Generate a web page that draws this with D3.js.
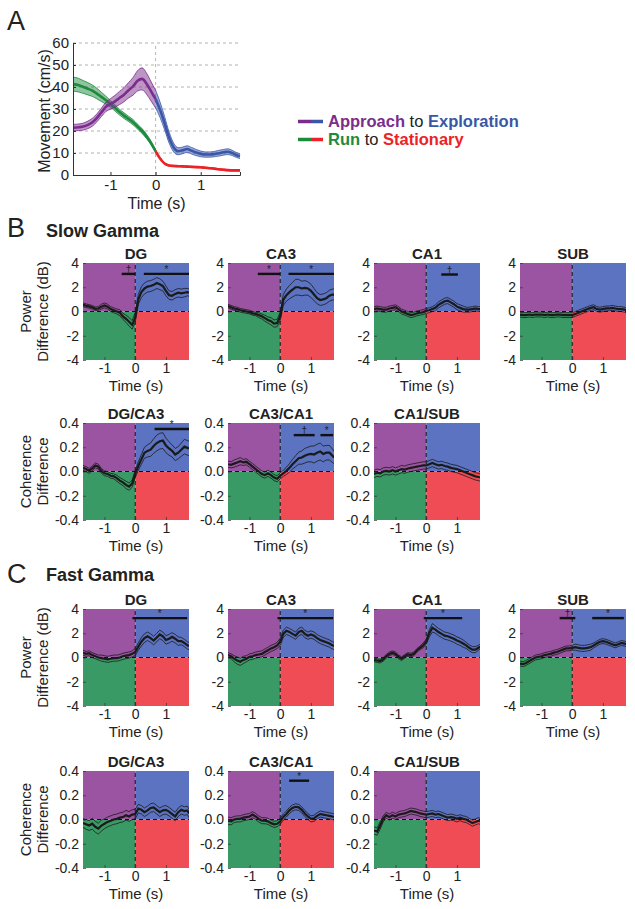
<!DOCTYPE html>
<html>
<head>
<meta charset="utf-8">
<script src="https://cdn.jsdelivr.net/npm/d3@7"></script>
<style>
body { margin: 0; background: #fff; }
svg text { font-family: "Liberation Sans", Arial, sans-serif; fill: #222; }
</style>
</head>
<body>
<svg id="fig" width="635" height="909"></svg>
<script>
// panel A: movement speed around the transition
var timeA = [-1.83,-1.7,-1.6,-1.5,-1.4,-1.3,-1.2,-1.1,-1.0,-0.9,-0.8,-0.7,-0.6,-0.5,-0.4,-0.3,-0.2,-0.1,0,0.1,0.2,0.3,0.4,0.5,0.6,0.7,0.8,0.9,1.0,1.1,1.2,1.3,1.4,1.5,1.6,1.7,1.8,1.87];
var approachMean = [21.5,21.7,22,22.8,24,26,28.5,31,32.3,33.5,35,36.5,38.5,40.3,42.8,43.7,41.5,38,34.5,29.6,23.5,17,12.5,10.8,11.2,11.8,11,10.2,9.6,9.3,9.3,9.5,9.9,10.3,10.6,10,9,8.6];
var approachSem = [1.5,1.5,1.6,1.7,1.8,1.8,1.9,2.1,2.4,2.7,3,3.2,3.5,4,4.6,5,4.8,4.4,4,3.5,3,2.5,2,1.6,1.5,1.5,1.5,1.4,1.3,1.2,1.2,1.2,1.3,1.3,1.3,1.2,1.1,1.1];
var runMean = [41.3,40.8,40,39.2,38.3,37,35.5,34,32.3,30.5,28.6,27,25.5,24,22,20,17.5,14.5,10.8,7.5,5.2,4.3,4.1,4,3.9,3.8,3.7,3.6,3.5,3.3,3.1,2.9,2.6,2.4,2.2,2.1,2.1,2.1];
var runSem = [3.2,3.1,2.9,2.8,2.6,2.4,2.1,1.8,1.5,1.4,1.3,1.3,1.2,1.2,1.1,1.1,1,0.8,0.6,0.4,0.3,0.3,0.3,0.3,0.3,0.3,0.3,0.3,0.3,0.3,0.3,0.3,0.3,0.3,0.3,0.3,0.3,0.3];
var speedTicks = [0,10,20,30,40,50,60];
var timeTicks = [-1,0,1];

// panels B and C: difference curves, 17 points before 0, one at 0, 18 after
var timeBC = [-1.7,-1.6,-1.5,-1.4,-1.3,-1.2,-1.1,-1.0,-0.9,-0.8,-0.7,-0.6,-0.5,-0.4,-0.3,-0.2,-0.1,0,0.1,0.2,0.3,0.4,0.5,0.6,0.7,0.8,0.9,1.0,1.1,1.2,1.3,1.4,1.5,1.6,1.7,1.75];
var powerTicks = [-4,-2,0,2,4];
var cohTicks = [-0.4,-0.2,0,0.2,0.4];

var slowPowDG = [0.55,0.48,0.42,0.35,0.22,0.25,0.4,0.5,0.4,0.2,0.1,0.0,-0.1,-0.4,-0.6,-0.85,-1.1, -0.5, 1.0,1.6,1.9,2.05,2.1,2.2,2.35,2.25,2.1,1.7,1.35,1.3,1.45,1.55,1.5,1.55,1.6,1.55];
var slowPowDGSem = [0.15,0.15,0.15,0.15,0.15,0.15,0.2,0.2,0.2,0.2,0.2,0.2,0.25,0.25,0.3,0.35,0.35, 0.4, 0.4,0.45,0.45,0.45,0.45,0.45,0.45,0.45,0.4,0.4,0.35,0.35,0.35,0.35,0.35,0.35,0.3,0.3];
var slowPowCA3 = [0.45,0.35,0.25,0.2,0.1,0.05,0.0,-0.05,-0.15,-0.2,-0.3,-0.4,-0.55,-0.7,-0.8,-1.0,-0.95, -0.4, 0.95,1.35,1.6,1.8,2.0,2.0,1.9,1.95,1.9,1.7,1.4,1.1,0.95,1.0,1.1,1.3,1.4,1.4];
var slowPowCA3Sem = [0.15,0.15,0.15,0.15,0.15,0.15,0.15,0.15,0.15,0.15,0.2,0.2,0.25,0.25,0.3,0.3,0.3, 0.35, 0.45,0.5,0.55,0.6,0.65,0.65,0.6,0.6,0.55,0.55,0.5,0.45,0.45,0.45,0.45,0.45,0.45,0.45];
var slowPowCA1 = [0.2,0.25,0.2,0.15,0.15,0.25,0.3,0.35,0.2,0.0,-0.1,-0.2,-0.3,-0.25,-0.15,-0.1,-0.05, 0.05, 0.1,0.2,0.3,0.55,0.7,0.85,0.9,0.75,0.6,0.4,0.3,0.2,0.15,0.15,0.2,0.25,0.2,0.2];
var slowPowCA1Sem = [0.2,0.2,0.2,0.2,0.2,0.2,0.2,0.2,0.2,0.2,0.2,0.2,0.2,0.2,0.2,0.2,0.2, 0.2, 0.2,0.2,0.25,0.25,0.25,0.25,0.25,0.25,0.25,0.25,0.25,0.25,0.2,0.2,0.2,0.2,0.2,0.2];
var slowPowSUB = [-0.25,-0.3,-0.3,-0.25,-0.3,-0.25,-0.25,-0.25,-0.3,-0.25,-0.3,-0.3,-0.25,-0.25,-0.3,-0.3,-0.3, -0.3, -0.2,-0.1,0.0,0.1,0.2,0.3,0.35,0.2,0.15,0.2,0.25,0.25,0.3,0.25,0.2,0.2,0.15,0.1];
var slowPowSUBSem = [0.2,0.2,0.2,0.2,0.2,0.2,0.2,0.2,0.2,0.2,0.2,0.2,0.2,0.2,0.2,0.2,0.2, 0.2, 0.2,0.2,0.2,0.2,0.2,0.2,0.2,0.2,0.2,0.2,0.2,0.2,0.2,0.2,0.2,0.2,0.2,0.2];

var slowCohDGCA3 = [0.03,0.02,0.005,0.025,0.05,0.04,0.005,-0.015,-0.02,-0.035,-0.04,-0.055,-0.075,-0.09,-0.11,-0.125,-0.1, -0.02, 0.045,0.1,0.155,0.17,0.18,0.21,0.235,0.25,0.255,0.215,0.19,0.17,0.14,0.155,0.18,0.205,0.195,0.19];
var slowCohDGCA3Sem = [0.02,0.02,0.02,0.02,0.02,0.02,0.02,0.02,0.02,0.02,0.02,0.025,0.025,0.025,0.03,0.03,0.03, 0.03, 0.035,0.04,0.045,0.05,0.055,0.06,0.065,0.065,0.065,0.06,0.055,0.05,0.05,0.05,0.055,0.06,0.06,0.06];
var slowCohCA3CA1 = [0.06,0.055,0.065,0.075,0.085,0.075,0.08,0.06,0.04,0.02,0.0,-0.02,-0.03,-0.015,-0.03,-0.05,-0.06, -0.035, -0.015,0.005,0.03,0.06,0.085,0.11,0.115,0.13,0.14,0.145,0.14,0.155,0.165,0.145,0.155,0.155,0.13,0.115];
var slowCohCA3CA1Sem = [0.025,0.025,0.03,0.03,0.03,0.025,0.025,0.025,0.025,0.025,0.025,0.025,0.025,0.025,0.025,0.025,0.025, 0.025, 0.025,0.03,0.035,0.04,0.045,0.05,0.055,0.06,0.06,0.065,0.07,0.07,0.07,0.065,0.06,0.06,0.055,0.05];
var slowCohCA1SUB = [-0.02,-0.01,-0.015,0.0,0.005,0.0,0.01,0.0,0.01,0.02,0.015,0.025,0.03,0.035,0.04,0.045,0.05, 0.05, 0.06,0.07,0.06,0.05,0.055,0.045,0.04,0.03,0.025,0.02,0.01,0.0,-0.01,-0.02,-0.03,-0.04,-0.045,-0.05];
var slowCohCA1SUBSem = [0.03,0.03,0.03,0.03,0.03,0.03,0.03,0.03,0.03,0.03,0.03,0.03,0.03,0.03,0.03,0.03,0.03, 0.03, 0.03,0.03,0.03,0.03,0.03,0.03,0.03,0.03,0.03,0.03,0.03,0.03,0.03,0.03,0.03,0.03,0.03,0.03];

var fastPowDG = [0.4,0.3,0.35,0.2,0.1,0.0,-0.05,-0.1,-0.15,-0.1,-0.05,-0.05,0.0,0.1,0.15,0.2,0.3, 0.45, 0.9,1.3,1.6,1.75,1.6,1.4,1.65,1.9,1.75,1.45,1.55,1.7,1.55,1.35,1.35,1.2,1.0,0.95];
var fastPowDGSem = [0.2,0.2,0.2,0.2,0.2,0.2,0.25,0.25,0.25,0.25,0.25,0.25,0.25,0.25,0.25,0.25,0.25, 0.3, 0.3,0.35,0.35,0.35,0.35,0.35,0.35,0.35,0.35,0.35,0.35,0.35,0.35,0.35,0.3,0.3,0.3,0.3];
var fastPowCA3 = [0.2,0.1,-0.1,-0.25,-0.35,-0.2,-0.1,0.05,0.1,0.2,0.25,0.3,0.45,0.6,0.75,0.85,1.0, 1.3, 1.95,2.2,2.1,1.95,1.8,2.1,2.2,1.95,1.8,1.9,1.8,1.6,1.45,1.35,1.25,1.15,1.0,0.95];
var fastPowCA3Sem = [0.2,0.2,0.25,0.3,0.3,0.3,0.25,0.25,0.25,0.25,0.25,0.25,0.25,0.25,0.25,0.25,0.25, 0.3, 0.3,0.3,0.3,0.3,0.3,0.3,0.3,0.3,0.3,0.3,0.3,0.3,0.3,0.3,0.3,0.3,0.3,0.3];
var fastPowCA1 = [-0.2,-0.25,-0.3,-0.15,0.1,0.3,0.4,0.3,0.05,-0.1,0.1,0.25,0.2,0.3,0.6,0.8,1.0, 1.3, 2.0,2.45,2.3,2.1,1.95,1.8,1.75,1.65,1.55,1.4,1.3,1.15,1.0,0.8,0.65,0.65,0.8,0.9];
var fastPowCA1Sem = [0.15,0.15,0.15,0.15,0.15,0.15,0.15,0.15,0.15,0.15,0.15,0.15,0.15,0.15,0.15,0.15,0.2, 0.2, 0.3,0.35,0.3,0.3,0.3,0.3,0.3,0.3,0.3,0.3,0.3,0.3,0.25,0.25,0.25,0.25,0.2,0.2];
var fastPowSUB = [-0.5,-0.55,-0.45,-0.3,-0.15,0.0,0.05,0.1,0.2,0.25,0.3,0.4,0.45,0.55,0.65,0.75,0.75, 0.8, 0.85,0.8,0.75,0.75,0.8,0.85,1.0,1.15,1.3,1.35,1.3,1.2,1.1,1.0,1.1,1.2,1.15,1.1];
var fastPowSUBSem = [0.2,0.2,0.2,0.2,0.2,0.2,0.2,0.2,0.2,0.2,0.2,0.2,0.2,0.2,0.2,0.2,0.2, 0.2, 0.25,0.25,0.25,0.25,0.25,0.25,0.2,0.2,0.2,0.2,0.2,0.2,0.2,0.2,0.2,0.2,0.2,0.2];

var fastCohDGCA3 = [-0.03,-0.04,-0.05,-0.035,-0.06,-0.075,-0.05,-0.035,-0.02,-0.01,0.0,0.005,0.015,0.02,0.035,0.025,0.04, 0.045, 0.09,0.08,0.06,0.075,0.095,0.1,0.08,0.06,0.075,0.08,0.065,0.045,0.025,0.06,0.08,0.07,0.075,0.05];
var fastCohDGCA3Sem = [0.035,0.04,0.04,0.045,0.045,0.045,0.045,0.04,0.04,0.04,0.04,0.04,0.04,0.04,0.04,0.04,0.04, 0.04, 0.035,0.035,0.035,0.035,0.035,0.035,0.035,0.035,0.035,0.035,0.035,0.035,0.035,0.035,0.035,0.035,0.035,0.035];
var fastCohCA3CA1 = [-0.01,-0.015,0.0,0.005,0.005,0.015,0.02,0.025,0.04,0.025,0.005,-0.01,-0.01,-0.015,-0.03,-0.04,-0.035, -0.015, 0.02,0.045,0.075,0.095,0.105,0.1,0.08,0.05,0.025,0.005,0.01,0.03,0.045,0.04,0.035,0.03,0.025,0.02];
var fastCohCA3CA1Sem = [0.03,0.03,0.025,0.025,0.025,0.025,0.025,0.025,0.025,0.025,0.025,0.025,0.025,0.025,0.025,0.025,0.025, 0.025, 0.025,0.025,0.025,0.025,0.025,0.025,0.025,0.025,0.025,0.025,0.025,0.025,0.025,0.025,0.025,0.025,0.025,0.025];
var fastCohCA1SUB = [-0.09,-0.1,-0.05,0.005,0.035,0.02,0.035,0.025,0.04,0.045,0.05,0.06,0.07,0.065,0.06,0.05,0.045, 0.04, 0.045,0.05,0.04,0.045,0.035,0.025,0.015,0.02,0.015,0.005,0.015,0.005,0.0,-0.015,-0.03,-0.02,-0.01,-0.015];
var fastCohCA1SUBSem = [0.03,0.03,0.03,0.025,0.025,0.025,0.025,0.025,0.025,0.025,0.025,0.025,0.025,0.025,0.025,0.025,0.025, 0.025, 0.025,0.025,0.025,0.025,0.025,0.025,0.025,0.025,0.025,0.025,0.025,0.025,0.025,0.025,0.025,0.025,0.025,0.025];

// significance bars: time span, height in data units, marker
var slowPowDGSig = [{from: -0.44, to: 0, level: 3.1, mark: '†'}, {from: 0.28, to: 1.75, level: 3.1, mark: '*'}];
var slowPowCA3Sig = [{from: -0.73, to: 0, level: 3.1, mark: '*'}, {from: 0.27, to: 1.75, level: 3.1, mark: '*'}];
var slowPowCA1Sig = [{from: 0.49, to: 1.03, level: 3.05, mark: '†'}];
var slowCohDGCA3Sig = [{from: 0.63, to: 1.75, level: 0.35, mark: '*'}];
var slowCohCA3CA1Sig = [{from: 0.44, to: 1.12, level: 0.3, mark: '†'}, {from: 1.31, to: 1.72, level: 0.3, mark: '*'}];
var fastPowDGSig = [{from: -0.09, to: 1.69, level: 3.25, mark: '*'}];
var fastPowCA3Sig = [{from: -0.09, to: 1.72, level: 3.25, mark: '*'}];
var fastPowCA1Sig = [{from: -0.08, to: 1.17, level: 3.25, mark: '*'}];
var fastPowSUBSig = [{from: -0.41, to: 0.1, level: 3.25, mark: '†'}, {from: 0.65, to: 1.68, level: 3.25, mark: '*'}];
var fastCohCA3CA1Sig = [{from: 0.29, to: 0.94, level: 0.32, mark: '*'}];

var purple = '#9a54a1';
var blue = '#5b73c0';
var green = '#3a9a66';
var red = '#ef4c55';

var svg = d3.select('#fig');
var fontFamily = '"Liberation Sans", Arial, sans-serif';

drawPanelA();
drawSmallPanels();

// panel A
function drawPanelA() {
	var x = d3.scaleLinear().domain([-1.83, 1.87]).range([73, 240]);
	var y = d3.scaleLinear().domain([0, 60]).range([175, 43]);
	var g = svg.append('g');

	svg.append('text').attr('x', 7).attr('y', 30).attr('font-size', 27).text('A');

	// dashed grid
	g.selectAll('.grid').data(speedTicks.slice(1)).enter().append('line')
		.attr('x1', x.range()[0]).attr('x2', x.range()[1])
		.attr('y1', function(d) { return y(d); }).attr('y2', function(d) { return y(d); })
		.attr('stroke', '#a0a0a0').attr('stroke-width', 0.8).attr('stroke-dasharray', '3,3');
	g.append('line')
		.attr('x1', x(0)).attr('x2', x(0)).attr('y1', y(0)).attr('y2', y(60))
		.attr('stroke', '#a0a0a0').attr('stroke-width', 0.8).attr('stroke-dasharray', '3,3');

	var run = timeA.map(function(t, i) { return {t: t, m: runMean[i], s: runSem[i]}; });
	var appr = timeA.map(function(t, i) { return {t: t, m: approachMean[i], s: approachSem[i]}; });

	drawBand(g, x, y, run.filter(function(d) { return d.t <= 0; }), '#1d8a3e');
	drawBand(g, x, y, run.filter(function(d) { return d.t >= 0; }), '#ec2227');
	drawBand(g, x, y, appr.filter(function(d) { return d.t <= 0; }), '#7b2d8e');
	drawBand(g, x, y, appr.filter(function(d) { return d.t >= 0; }), '#3a56a8');

	var yAxis = g.append('g').attr('transform', 'translate(' + x.range()[0] + ',0)')
		.call(d3.axisLeft(y).tickValues(speedTicks).tickSize(-3).tickPadding(4));
	var xAxis = g.append('g').attr('transform', 'translate(0,' + y(0) + ')')
		.call(d3.axisBottom(x).tickValues(timeTicks).tickSize(-3).tickPadding(4).tickFormat(function(d) { return String(d); }));

	[yAxis, xAxis].forEach(function(a) {
		a.attr('font-family', fontFamily).attr('font-size', 15);
		a.select('.domain').attr('stroke', '#333');
		a.selectAll('.tick line').attr('stroke', '#333');
		a.selectAll('.tick text').attr('fill', '#222');
	});

	g.append('text')
		.attr('transform', 'translate(50,' + (y(30) + 2) + ') rotate(-90)')
		.attr('text-anchor', 'middle').attr('font-size', 16).text('Movement (cm/s)');
	g.append('text')
		.attr('x', (x.range()[0] + x.range()[1]) / 2).attr('y', y(0) + 34)
		.attr('text-anchor', 'middle').attr('font-size', 16).text('Time (s)');

	// legend
	var legend = [
		{a: 'Approach', b: 'Exploration', c1: '#7b2d8e', c2: '#3a56a8', y: 121.5},
		{a: 'Run', b: 'Stationary', c1: '#1d8a3e', c2: '#ec2227', y: 139.5}
	];

	legend.forEach(function(item) {
		svg.append('line').attr('x1', 298).attr('x2', 311).attr('y1', item.y).attr('y2', item.y)
			.attr('stroke', item.c1).attr('stroke-width', 3.5);
		svg.append('line').attr('x1', 311).attr('x2', 323).attr('y1', item.y).attr('y2', item.y)
			.attr('stroke', item.c2).attr('stroke-width', 3.5);

		var txt = svg.append('text').attr('x', 328).attr('y', item.y + 5.5)
			.attr('font-size', 16.5).style('white-space', 'pre');
		txt.append('tspan').attr('font-weight', 'bold').style('fill', item.c1).text(item.a);
		txt.append('tspan').style('fill', '#222').text(' to ');
		txt.append('tspan').attr('font-weight', 'bold').style('fill', item.c2).text(item.b);
	});
}

function drawBand(g, x, y, rows, color) {
	var area = d3.area()
		.x(function(d) { return x(d.t); })
		.y0(function(d) { return y(d.m - d.s); })
		.y1(function(d) { return y(d.m + d.s); })
		.curve(d3.curveMonotoneX);

	g.append('path').datum(rows).attr('d', area).attr('fill', color).attr('fill-opacity', 0.5);

	[-1, 1].forEach(function(sign) {
		var edge = d3.line()
			.x(function(d) { return x(d.t); })
			.y(function(d) { return y(d.m + sign * d.s); })
			.curve(d3.curveMonotoneX);

		g.append('path').datum(rows).attr('d', edge)
			.attr('fill', 'none').attr('stroke', color).attr('stroke-width', 0.8);
	});

	var mid = d3.line()
		.x(function(d) { return x(d.t); })
		.y(function(d) { return y(d.m); })
		.curve(d3.curveMonotoneX);

	g.append('path').datum(rows).attr('d', mid)
		.attr('fill', 'none').attr('stroke', color).attr('stroke-width', 2.6);
}

// panels B and C
function drawSmallPanels() {
	var colX = [83, 228, 374, 520];
	var rowTop = {bPow: 263, bCoh: 423, cPow: 609, cCoh: 771};

	svg.append('text').attr('x', 7).attr('y', 237).attr('font-size', 27).text('B');
	svg.append('text').attr('x', 46).attr('y', 236.5).attr('font-size', 18).attr('font-weight', 'bold').text('Slow Gamma');
	svg.append('text').attr('x', 7).attr('y', 583).attr('font-size', 27).text('C');
	svg.append('text').attr('x', 46).attr('y', 581).attr('font-size', 18).attr('font-weight', 'bold').text('Fast Gamma');

	var panels = [
		{title: 'DG', mean: slowPowDG, sem: slowPowDGSem, sig: slowPowDGSig, kind: 'pow', col: 0, top: rowTop.bPow},
		{title: 'CA3', mean: slowPowCA3, sem: slowPowCA3Sem, sig: slowPowCA3Sig, kind: 'pow', col: 1, top: rowTop.bPow},
		{title: 'CA1', mean: slowPowCA1, sem: slowPowCA1Sem, sig: slowPowCA1Sig, kind: 'pow', col: 2, top: rowTop.bPow},
		{title: 'SUB', mean: slowPowSUB, sem: slowPowSUBSem, sig: [], kind: 'pow', col: 3, top: rowTop.bPow},
		{title: 'DG/CA3', mean: slowCohDGCA3, sem: slowCohDGCA3Sem, sig: slowCohDGCA3Sig, kind: 'coh', col: 0, top: rowTop.bCoh},
		{title: 'CA3/CA1', mean: slowCohCA3CA1, sem: slowCohCA3CA1Sem, sig: slowCohCA3CA1Sig, kind: 'coh', col: 1, top: rowTop.bCoh},
		{title: 'CA1/SUB', mean: slowCohCA1SUB, sem: slowCohCA1SUBSem, sig: [], kind: 'coh', col: 2, top: rowTop.bCoh},
		{title: 'DG', mean: fastPowDG, sem: fastPowDGSem, sig: fastPowDGSig, kind: 'pow', col: 0, top: rowTop.cPow},
		{title: 'CA3', mean: fastPowCA3, sem: fastPowCA3Sem, sig: fastPowCA3Sig, kind: 'pow', col: 1, top: rowTop.cPow},
		{title: 'CA1', mean: fastPowCA1, sem: fastPowCA1Sem, sig: fastPowCA1Sig, kind: 'pow', col: 2, top: rowTop.cPow},
		{title: 'SUB', mean: fastPowSUB, sem: fastPowSUBSem, sig: fastPowSUBSig, kind: 'pow', col: 3, top: rowTop.cPow},
		{title: 'DG/CA3', mean: fastCohDGCA3, sem: fastCohDGCA3Sem, sig: [], kind: 'coh', col: 0, top: rowTop.cCoh},
		{title: 'CA3/CA1', mean: fastCohCA3CA1, sem: fastCohCA3CA1Sem, sig: fastCohCA3CA1Sig, kind: 'coh', col: 1, top: rowTop.cCoh},
		{title: 'CA1/SUB', mean: fastCohCA1SUB, sem: fastCohCA1SUBSem, sig: [], kind: 'coh', col: 2, top: rowTop.cCoh}
	];

	panels.forEach(function(p, i) {
		drawPanel(p, colX[p.col], i);
	});
}

function drawPanel(p, left, idx) {
	var pw = 106;
	var ph = 97;
	var top = p.top;
	var isPow = p.kind === 'pow';
	var x = d3.scaleLinear().domain([-1.7, 1.75]).range([left, left + pw]);
	var y = d3.scaleLinear().domain(isPow ? [-4, 4] : [-0.4, 0.4]).range([top + ph, top]);
	var t0 = x.domain()[0], t1 = x.domain()[1];
	var v0 = y.domain()[0], v1 = y.domain()[1];
	var g = svg.append('g');

	var quads = [
		{a: t0, b: 0, lo: 0, hi: v1, c: purple},
		{a: 0, b: t1, lo: 0, hi: v1, c: blue},
		{a: t0, b: 0, lo: v0, hi: 0, c: green},
		{a: 0, b: t1, lo: v0, hi: 0, c: red}
	];

	g.selectAll('.quad').data(quads).enter().append('rect')
		.attr('x', function(d) { return x(d.a); })
		.attr('y', function(d) { return y(d.hi); })
		.attr('width', function(d) { return x(d.b) - x(d.a); })
		.attr('height', function(d) { return y(d.lo) - y(d.hi); })
		.attr('fill', function(d) { return d.c; });

	g.append('line').attr('x1', x(0)).attr('x2', x(0)).attr('y1', y(v0)).attr('y2', y(v1))
		.attr('stroke', '#111').attr('stroke-width', 1).attr('stroke-dasharray', '4,3');
	g.append('line').attr('x1', x(t0)).attr('x2', x(t1)).attr('y1', y(0)).attr('y2', y(0))
		.attr('stroke', '#111').attr('stroke-width', 1).attr('stroke-dasharray', '4,3');

	var clipId = 'clip' + idx;
	svg.append('clipPath').attr('id', clipId).append('rect')
		.attr('x', x(t0)).attr('y', y(v1)).attr('width', pw).attr('height', ph);

	var rows = timeBC.map(function(t, i) { return {t: t, m: p.mean[i], s: p.sem[i]}; });
	var lines = g.append('g').attr('clip-path', 'url(#' + clipId + ')');

	[-1, 1].forEach(function(sign) {
		var edge = d3.line()
			.x(function(d) { return x(d.t); })
			.y(function(d) { return y(d.m + sign * d.s); });

		lines.append('path').datum(rows).attr('d', edge)
			.attr('fill', 'none').attr('stroke', '#1a1a1a').attr('stroke-width', 0.8);
	});

	var mid = d3.line()
		.x(function(d) { return x(d.t); })
		.y(function(d) { return y(d.m); });

	lines.append('path').datum(rows).attr('d', mid)
		.attr('fill', 'none').attr('stroke', '#1a1a1a').attr('stroke-width', 2.2);

	// significance
	var sig = g.selectAll('.sig').data(p.sig).enter().append('g');
	sig.append('line')
		.attr('x1', function(d) { return x(d.from); })
		.attr('x2', function(d) { return x(d.to); })
		.attr('y1', function(d) { return y(d.level); })
		.attr('y2', function(d) { return y(d.level); })
		.attr('stroke', '#111').attr('stroke-width', 2.4);
	sig.append('text')
		.attr('x', function(d) { return x((d.from + d.to) / 2); })
		.attr('y', function(d) { return y(d.level) - 1; })
		.attr('text-anchor', 'middle').attr('font-size', 10)
		.text(function(d) { return d.mark; });

	// axes
	var fmt = isPow ? function(d) { return String(d); } : function(d) { return d.toFixed(1); };
	var yAxis = g.append('g').attr('transform', 'translate(' + left + ',0)')
		.call(d3.axisLeft(y).tickValues(isPow ? powerTicks : cohTicks).tickSize(-3).tickPadding(4).tickFormat(fmt));
	var xAxis = g.append('g').attr('transform', 'translate(0,' + (top + ph) + ')')
		.call(d3.axisBottom(x).tickValues(timeTicks).tickSize(-3).tickPadding(3).tickFormat(function(d) { return String(d); }));

	[yAxis, xAxis].forEach(function(a) {
		a.attr('font-family', fontFamily).attr('font-size', 14);
		a.select('.domain').remove();
		a.selectAll('.tick line').attr('stroke', '#333').attr('stroke-width', 0.7);
		a.selectAll('.tick text').attr('fill', '#222');
	});

	g.append('text')
		.attr('x', left + pw / 2).attr('y', top - 4.5)
		.attr('text-anchor', 'middle').attr('font-size', 15).attr('font-weight', 'bold')
		.text(p.title);
	g.append('text')
		.attr('x', left + pw / 2).attr('y', top + ph + 31)
		.attr('text-anchor', 'middle').attr('font-size', 15)
		.text('Time (s)');

	if (p.col === 0) {
		var labels = isPow ? ['Power', 'Difference (dB)'] : ['Coherence', 'Difference'];
		var cy = top + ph / 2;

		g.append('text').attr('transform', 'translate(31,' + cy + ') rotate(-90)')
			.attr('text-anchor', 'middle').attr('font-size', 15).text(labels[0]);
		g.append('text').attr('transform', 'translate(48,' + cy + ') rotate(-90)')
			.attr('text-anchor', 'middle').attr('font-size', 15).text(labels[1]);
	}
}
</script>
</body>
</html>
